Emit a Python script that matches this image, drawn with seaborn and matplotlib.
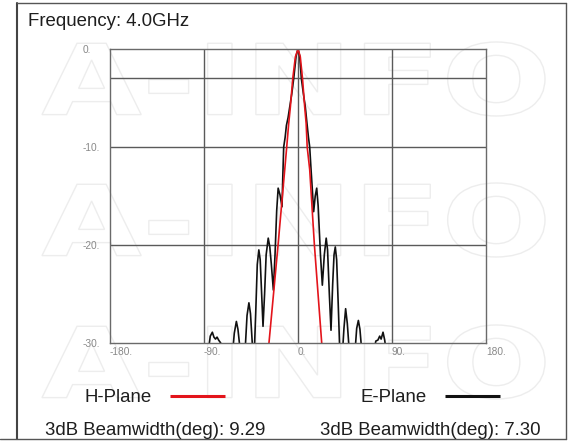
import matplotlib
matplotlib.use("Agg")
import numpy as np
import pandas as pd
import matplotlib.pyplot as plt
import seaborn as sns
from matplotlib.textpath import TextPath
from matplotlib.patches import PathPatch
from matplotlib.transforms import Affine2D
from matplotlib.font_manager import FontProperties

h_angle = [-29.5, -27.8, -19.1, -12.7, -10.8, -8.9, -7.3, -5.0, -2.5, 0.0,
           2.2, 4.3, 6.4, 7.8, 8.8, 11.2, 15.7, 22.7, 24.2]
h_gain = [-32, -30, -20, -12.3, -10, -7.6, -5.9, -3.0, -0.8, 0.0,
          -0.8, -3.0, -5.9, -7.6, -10, -12.3, -20, -30, -32]

e_angle = [-180, -88, -85.5, -84, -82, -80.5, -79, -77.5, -76, -74, -71.8, -66,
           -63, -61, -59, -57.5, -55.5, -52.5, -50.5, -48.8, -47, -45.5, -43.5,
           -42.2, -40.5, -39, -37.5, -36.2, -35, -33.5, -32, -30.5, -28.5, -27,
           -25.5, -23.6, -22, -20.4, -19, -17.2, -15.3, -14.6, -13.7, -12.3,
           -11.1, -9.5, -7.9, -6.0, -4.1, -1.8, 0.0,
           1.6, 3.2, 5.2, 7.0, 8.6, 10.0, 11.2, 12.5, 13.8, 15.0, 16.5, 17.9,
           19.3, 21.5, 23.3, 25.2, 27.0, 28.3, 30.0, 31.6, 33.2, 34.5, 35.7,
           37.0, 38.5, 40.2, 42.0, 44.0, 45.6, 47.2, 49.2, 51.5, 54.5, 56.2,
           57.8, 59.3, 61.2, 67, 72.8, 74.5, 76.5, 78.2, 79.6, 81.4, 83.0, 84.6,
           90, 180]
e_gain = [-36, -35, -30.5, -29.3, -28.9, -29.4, -29.6, -29.4, -29.7, -30.0, -31, -34,
          -31.5, -29, -27.8, -28.6, -30.6, -32, -30.5, -27.2, -25.9, -27, -30.5,
          -32, -27, -22, -20.5, -21.5, -24.5, -28.3, -25, -21, -19.3, -20.2,
          -22, -24.6, -21, -16.5, -14.2, -14.9, -16.1, -13.2, -10, -9.0,
          -7.8, -7.0, -5.9, -4.6, -3.0, -0.7, 0.0,
          -0.7, -3.0, -4.6, -5.9, -7.6, -9.0, -10, -12.3, -14.5, -16.6, -15.0, -14.2,
          -16.0, -21, -24.1, -21.0, -19.3, -20.5, -25, -28.7, -24, -21, -20.2,
          -21.5, -26, -31.5, -32, -28.5, -26.5, -28, -31, -32.5, -31, -28.5,
          -27.7, -28.6, -31, -34, -30.8, -29.8, -29.7, -29.3, -29.6, -28.9, -29.7, -31,
          -35, -36]

x_ticks = [-180, -90, 0, 90, 180]
x_tick_labels = ["-180.", "-90.", "0.", "90.", "180."]
y_ticks = [0, -10, -20, -30]
y_tick_labels = ["0.", "-10.", "-20.", "-30."]
grid_x = [-90, 0, 90]
grid_y = [-3, -10, -20]

titulo = "Frequency: 4.0GHz"
planos = ["H-Plane", "E-Plane"]
beamwidth = [9.29, 7.30]

rojo = "#e3141b"
negro = "#111111"

df = pd.DataFrame({
    "angle": h_angle + e_angle,
    "gain": h_gain + e_gain,
    "plane": ["H-Plane"] * len(h_angle) + ["E-Plane"] * len(e_angle),
})

sns.set_style("white")
plt.rcParams["font.family"] = ["Liberation Sans", "DejaVu Sans"]

W, H = 568, 441
fig = plt.figure(figsize=(W / 100, H / 100), dpi=100)
fig.patch.set_facecolor("white")

#! capa de fondo en pixeles: marca de agua, marco y textos
ov = fig.add_axes([0, 0, 1, 1])
ov.set_xlim(0, W)
ov.set_ylim(H, 0)
ov.axis("off")
ov.set_zorder(0)

tp = TextPath((0, 0), "A-INFO", size=1, prop=FontProperties(family="DejaVu Sans", weight="bold"))
ext = tp.get_extents()
for top in [42, 183, 325]:
    tr = Affine2D().translate(-ext.x0, -ext.y0).scale(503 / ext.width, -74 / ext.height).translate(42, top + 74)
    ov.add_patch(PathPatch(tr.transform_path(tp), fc="none", ec="#ededed", lw=1.0))

ov.plot([17, 17], [3, 438.5], color="#444444", lw=1.5)
ov.plot([17, 565.5], [3, 3], color="#555555", lw=1.0)
ov.plot([565.5, 565.5], [3, 438.5], color="#555555", lw=1.0)
ov.plot([0, 565.5], [438.5, 438.5], color="#555555", lw=1.0)

txt = dict(fontsize=13.4, color="#1e1e1e", va="baseline")
ov.text(28, 26, titulo, **txt)
ov.text(85, 402.5, planos[0], **txt)
ov.text(360, 402.5, planos[1], **txt)
ov.plot([170, 225], [396, 396], color=rojo, lw=2.2, solid_capstyle="butt")
ov.plot([445, 500], [396, 396], color=negro, lw=2.2, solid_capstyle="butt")
ov.text(45, 435, f"3dB Beamwidth(deg): {beamwidth[0]:.2f}", **txt)
ov.text(320, 435, f"3dB Beamwidth(deg): {beamwidth[1]:.2f}", **txt)

#! grafico principal
ax = fig.add_axes([110 / W, 1 - 343 / H, 376 / W, 294 / H])
ax.set_zorder(1)
ax.patch.set_alpha(0)

for v in grid_x:
    ax.axvline(v, color="#5a5a5a", lw=1.0, zorder=1)
for v in grid_y:
    ax.axhline(v, color="#5a5a5a", lw=1.0, zorder=1)

sns.lineplot(data=df, x="angle", y="gain", hue="plane", hue_order=["E-Plane", "H-Plane"],
             palette={"H-Plane": rojo, "E-Plane": negro}, estimator=None,
             legend=False, linewidth=1.2, ax=ax)

ax.set_xlim(-180, 180)
ax.set_ylim(-30, 0)
ax.set_xlabel("")
ax.set_ylabel("")
ax.set_xticks(x_ticks)
ax.set_xticklabels(x_tick_labels)
ax.set_yticks(y_ticks)
ax.set_yticklabels(y_tick_labels)
ax.tick_params(length=0, labelsize=7.3, labelcolor="#888888")
ax.tick_params(axis="x", pad=3)
ax.tick_params(axis="y", pad=20)
for lbl in ax.get_xticklabels():
    lbl.set_ha("left")
for lbl in ax.get_yticklabels():
    lbl.set_ha("left")
for s in ax.spines.values():
    s.set_visible(True)
    s.set_color("#6a6a6a")
    s.set_linewidth(1.0)

fig.savefig("out.png", dpi=100)
